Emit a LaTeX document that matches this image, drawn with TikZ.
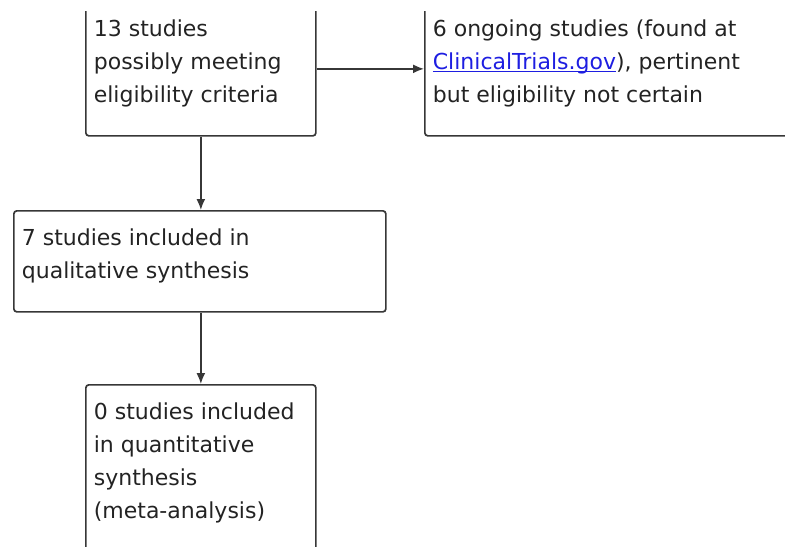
\documentclass[tikz,border=0pt]{standalone}
\usepackage{fontspec}
\setmainfont{DejaVu Sans}
\usepackage{tikz}
\usetikzlibrary{arrows.meta}
\usepackage{xcolor}
\definecolor{linkblue}{RGB}{30,30,225}
\definecolor{edgegray}{RGB}{55,55,55}
\definecolor{txtgray}{RGB}{35,35,35}
% text block of fixed height, set from the top
\newcommand{\boxtext}[3]{\parbox[c][#1][t]{#2}{\raggedright\strut #3}}

\begin{document}
\begin{tikzpicture}[x=1pt,y=-1pt,
  flowbox/.style={draw=edgegray, line width=1.7pt, rounded corners=3pt,
    anchor=north west, inner xsep=8pt, inner ysep=12pt, text=txtgray,
    font=\fontsize{22}{33}\selectfont},
  arr/.style={draw=edgegray, line width=1.7pt, -{Latex[length=11pt,width=9pt]}}]
\useasboundingbox (0,0) rectangle (785,550);
\clip (0,11) rectangle (785,546);
% Boxes
\node[flowbox] (possible) at (85,1)
  {\boxtext{110pt}{214pt}{13 studies\\possibly meeting\\eligibility criteria}};
\node[flowbox] (ongoing) at (424,1)
  {\boxtext{110pt}{384pt}{6 ongoing studies (found at\\\textcolor{linkblue}{\underline{\smash{ClinicalTrials.gov}}}), pertinent\\but eligibility not certain}};
\node[flowbox] (qualit) at (13,210)
  {\boxtext{77pt}{356pt}{7 studies included in\\qualitative synthesis}};
\node[flowbox] (quantit) at (85,384)
  {\boxtext{146pt}{214pt}{0 studies included\\in quantitative\\synthesis\\(meta-analysis)}};
% Arrows
\draw[arr] (possible.east) -- (ongoing.west);
\draw[arr] (possible.south) -- (possible.south |- qualit.north);
\draw[arr] (quantit.north |- qualit.south) -- (quantit.north);
\end{tikzpicture}
\end{document}
